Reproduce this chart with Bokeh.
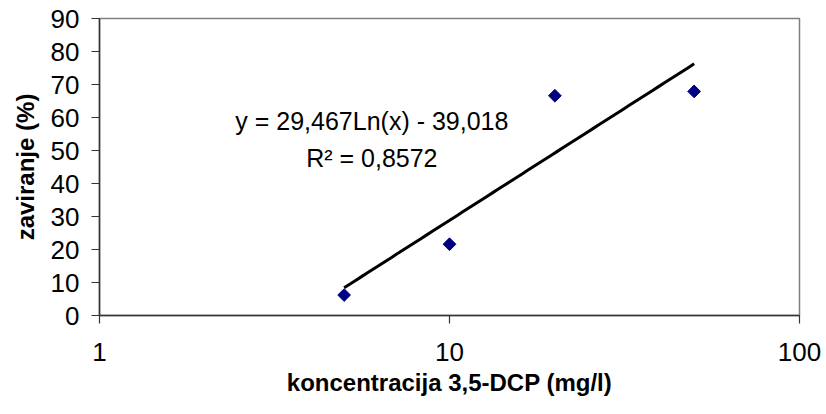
import numpy as np
from bokeh.plotting import figure
from bokeh.models import FixedTicker, NumeralTickFormatter, Label, Range1d, ColumnDataSource
from bokeh.embed import file_html
from bokeh.resources import INLINE

# data
concentration = [5, 10, 20, 50]
inhibition = [6.2, 21.6, 66.6, 67.9]
# logarithmic trendline shown on the chart: y = a*ln(x) + b
trend_a = 29.467
trend_b = -39.018
trend_label = "y = 29,467Ln(x) - 39,018"
r2_label = "R² = 0,8572"
x_ticks = [1, 10, 100]
y_ticks = [0, 10, 20, 30, 40, 50, 60, 70, 80, 90]

FONT = "Liberation Sans"

p = figure(width=826, height=414, x_axis_type="log", output_backend="svg",
           toolbar_location=None, x_range=Range1d(1, 100), y_range=Range1d(0, 90),
           min_border_left=99, min_border_right=27, min_border_top=18, min_border_bottom=99)
p.background_fill_color = "white"
p.border_fill_color = "white"
p.outline_line_color = "#808080"
p.outline_line_width = 1.5
p.grid.visible = False

# trendline between smallest and largest concentration
tx = np.exp(np.linspace(np.log(min(concentration)), np.log(max(concentration)), 60))
ty = trend_a * np.log(tx) + trend_b
p.line(tx, ty, line_color="black", line_width=3)

src = ColumnDataSource(dict(x=concentration, y=inhibition))
p.scatter("x", "y", source=src, marker="square", angle=np.pi / 4, size=9,
          fill_color="#000080", line_color="#000080")

for ax in (p.xaxis[0], p.yaxis[0]):
    ax.axis_line_color = "#333333"
    ax.axis_line_width = 1.5
    ax.major_tick_line_color = "#333333"
    ax.major_tick_line_width = 1.2
    ax.major_tick_in = 0
    ax.major_tick_out = 8
    ax.minor_tick_line_color = None
    ax.major_label_text_font = FONT
    ax.major_label_text_font_size = "26px"
    ax.major_label_text_color = "black"
    ax.axis_label_text_font = FONT
    ax.axis_label_text_font_style = "bold"
    ax.axis_label_text_font_size = "24px"
    ax.axis_label_text_color = "black"

p.xaxis.ticker = FixedTicker(ticks=x_ticks)
p.xaxis.formatter = NumeralTickFormatter(format="0")
p.xaxis.major_label_standoff = 19
p.xaxis.axis_label = "koncentracija 3,5-DCP (mg/l)"
p.xaxis.axis_label_standoff = 5

p.yaxis.ticker = FixedTicker(ticks=y_ticks)
p.yaxis.major_label_standoff = 12
p.yaxis.axis_label = "zaviranje (%)"
p.yaxis.axis_label_standoff = 9

p.add_layout(Label(x=6.0, y=58.8, text=trend_label, text_align="center", text_baseline="middle",
                   text_font=FONT, text_font_size="25px", text_color="black"))
p.add_layout(Label(x=6.0, y=47.6, text=r2_label, text_align="center", text_baseline="middle",
                   text_font=FONT, text_font_size="25px", text_color="black"))

open("out.html", "w").write(file_html(p, INLINE))
